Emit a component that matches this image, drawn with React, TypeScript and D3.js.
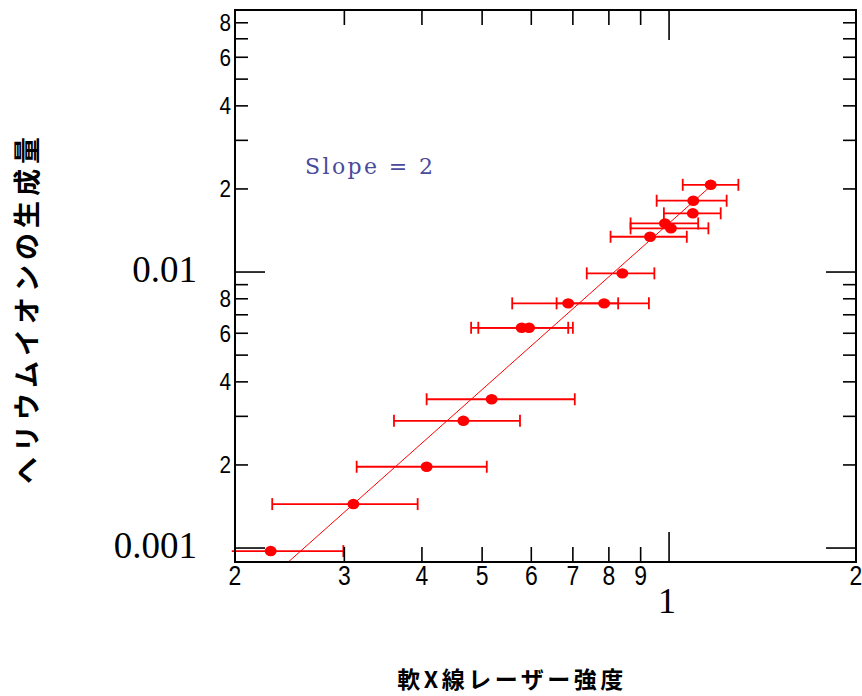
import React from 'react';
import * as d3 from 'd3';

// Data
const xValues = [0.2283, 0.3102, 0.407, 0.4664, 0.518, 0.579, 0.595, 0.688, 0.786, 0.841, 0.932, 0.985, 1.007, 1.092, 1.094, 1.167];
const yValues = [0.000975, 0.001443, 0.00197, 0.00289, 0.00346, 0.00628, 0.00628, 0.0077, 0.0077, 0.00989, 0.01342, 0.015, 0.0144, 0.01632, 0.01813, 0.0207];
const xErrLow = [0.1976, 0.2296, 0.314, 0.3606, 0.407, 0.48, 0.493, 0.559, 0.659, 0.737, 0.805, 0.867, 0.867, 0.981, 0.955, 1.052];
const xErrHigh = [0.2989, 0.3937, 0.5087, 0.5754, 0.705, 0.688, 0.7, 0.828, 0.928, 0.947, 1.068, 1.114, 1.157, 1.211, 1.238, 1.293];
const fitX = [0.2437, 1.165];
const fitY = [0.00089, 0.0204];

const xMinorTicks = [0.3, 0.4, 0.5, 0.6, 0.7, 0.8, 0.9];
const xMajorTicks = [1];
const xLabelValues = [0.2, 0.3, 0.4, 0.5, 0.6, 0.7, 0.8, 0.9, 2];
const xLabelTexts = ['2', '3', '4', '5', '6', '7', '8', '9', '2'];
const xMajorLabelValues = [1];
const xMajorLabelTexts = ['1'];

const yMinorTicks = [0.002, 0.003, 0.004, 0.005, 0.006, 0.007, 0.008, 0.009, 0.02, 0.03, 0.04, 0.05, 0.06, 0.07, 0.08];
const yMajorTicks = [0.001, 0.01];
const yLabelValues = [0.002, 0.004, 0.006, 0.008, 0.02, 0.04, 0.06, 0.08];
const yLabelTexts = ['2', '4', '6', '8', '2', '4', '6', '8'];
const yMajorLabelValues = [0.001, 0.01];
const yMajorLabelTexts = ['0.001', '0.01'];

const yTitle = 'ヘリウムイオンの生成量';
const xTitle = '軟X線レーザー強度';
const annotation = 'Slope = 2';

export default function App() {
  const W = 862, H = 696;
  const left = 235, right = 856, top = 10, bottom = 562;
  const x = d3.scaleLog().domain([0.2, 2]).range([left, right]);
  const y = d3.scaleLog().domain([0.00089, 0.089]).range([bottom, top]);
  const red = '#ff0000';
  const minorLen = 13, majorLen = 30;
  const xMinorLen = 15;
  const sans = '"Liberation Sans", Arial, sans-serif';
  const serif = '"Liberation Serif", "Times New Roman", serif';
  const cjk = '"Noto Sans CJK JP", sans-serif';
  const line = d3.line<number>().x((d, i) => x(fitX[i])).y((d, i) => y(fitY[i]));

  return (
    <svg width={W} height={H} style={{ position: 'absolute', left: 0, top: 0, background: '#fff' }}>
      <rect x={0} y={0} width={W} height={H} fill="#fff" />
      {/* fit line */}
      <path d={line(fitX) || ''} stroke={red} strokeWidth={1} fill="none" />
      {/* error bars */}
      {xValues.map((xv, i) => {
        const cy = y(yValues[i]);
        const x0 = x(xErrLow[i]);
        const x1 = x(xErrHigh[i]);
        return (
          <g key={'e' + i} stroke={red} strokeWidth={1.8}>
            <line x1={x0} x2={x1} y1={cy} y2={cy} />
            {x0 >= left && <line x1={x0} x2={x0} y1={cy - 6} y2={cy + 6} />}
            <line x1={x1} x2={x1} y1={cy - 6} y2={cy + 6} />
          </g>
        );
      })}
      {xValues.map((xv, i) => (
        <ellipse key={'p' + i} cx={x(xv)} cy={y(yValues[i])} rx={6} ry={5.2} fill={red} />
      ))}
      {/* frame */}
      <rect x={left} y={top} width={right - left} height={bottom - top} fill="none" stroke="#000" strokeWidth={2} />
      {/* ticks */}
      <g stroke="#000" strokeWidth={1.6}>
        {xMinorTicks.map((v) => (
          <g key={'xm' + v}>
            <line x1={x(v)} x2={x(v)} y1={bottom} y2={bottom - xMinorLen} />
            <line x1={x(v)} x2={x(v)} y1={top} y2={top + xMinorLen} />
          </g>
        ))}
        {xMajorTicks.map((v) => (
          <g key={'xM' + v}>
            <line x1={x(v)} x2={x(v)} y1={bottom} y2={bottom - majorLen} />
            <line x1={x(v)} x2={x(v)} y1={top} y2={top + majorLen} />
          </g>
        ))}
        {yMinorTicks.map((v) => (
          <g key={'ym' + v}>
            <line x1={left} x2={left + minorLen} y1={y(v)} y2={y(v)} />
            <line x1={right} x2={right - minorLen} y1={y(v)} y2={y(v)} />
          </g>
        ))}
        {yMajorTicks.map((v) => (
          <g key={'yM' + v}>
            <line x1={left} x2={left + majorLen} y1={y(v)} y2={y(v)} />
            <line x1={right} x2={right - majorLen} y1={y(v)} y2={y(v)} />
          </g>
        ))}
      </g>
      {/* x labels */}
      {xLabelValues.map((v, i) => (
        <text key={'xl' + i} transform={`translate(${x(v)},585) scale(0.85,1)`} textAnchor="middle" fontFamily={sans} fontSize={27} fill="#000">
          {xLabelTexts[i]}
        </text>
      ))}
      {xMajorLabelValues.map((v, i) => (
        <text key={'xML' + i} x={x(v) - 2} y={613} textAnchor="middle" fontFamily={serif} fontSize={36} fill="#000">
          {xMajorLabelTexts[i]}
        </text>
      ))}
      {/* y labels */}
      {yLabelValues.map((v, i) => (
        <text key={'yl' + i} transform={`translate(231,${y(v) + 8.5}) scale(0.9,1)`} textAnchor="end" fontFamily={sans} fontSize={23} fill="#000">
          {yLabelTexts[i]}
        </text>
      ))}
      {yMajorLabelValues.map((v, i) => (
        <text key={'yML' + i} x={197} y={y(v) + 10} textAnchor="end" fontFamily={serif} fontSize={37} fill="#000">
          {yMajorLabelTexts[i]}
        </text>
      ))}
      {/* annotation */}
      <text x={305} y={174} fontFamily={'"DejaVu Serif", serif'} fontSize={22} fill="#4a4a9c" textLength={128} lengthAdjust="spacing">
        {annotation}
      </text>
      {/* axis titles */}
      <text transform="translate(25,308) rotate(-90)" textAnchor="middle" dominantBaseline="central" fontFamily={cjk} fontWeight="bold" fontSize={27} letterSpacing={5} fill="#000">
        {yTitle}
      </text>
      <text x={512} y={678} textAnchor="middle" dominantBaseline="central" fontFamily={cjk} fontWeight="bold" fontSize={23} letterSpacing={3.5} fill="#000">
        {xTitle}
      </text>
    </svg>
  );
}
